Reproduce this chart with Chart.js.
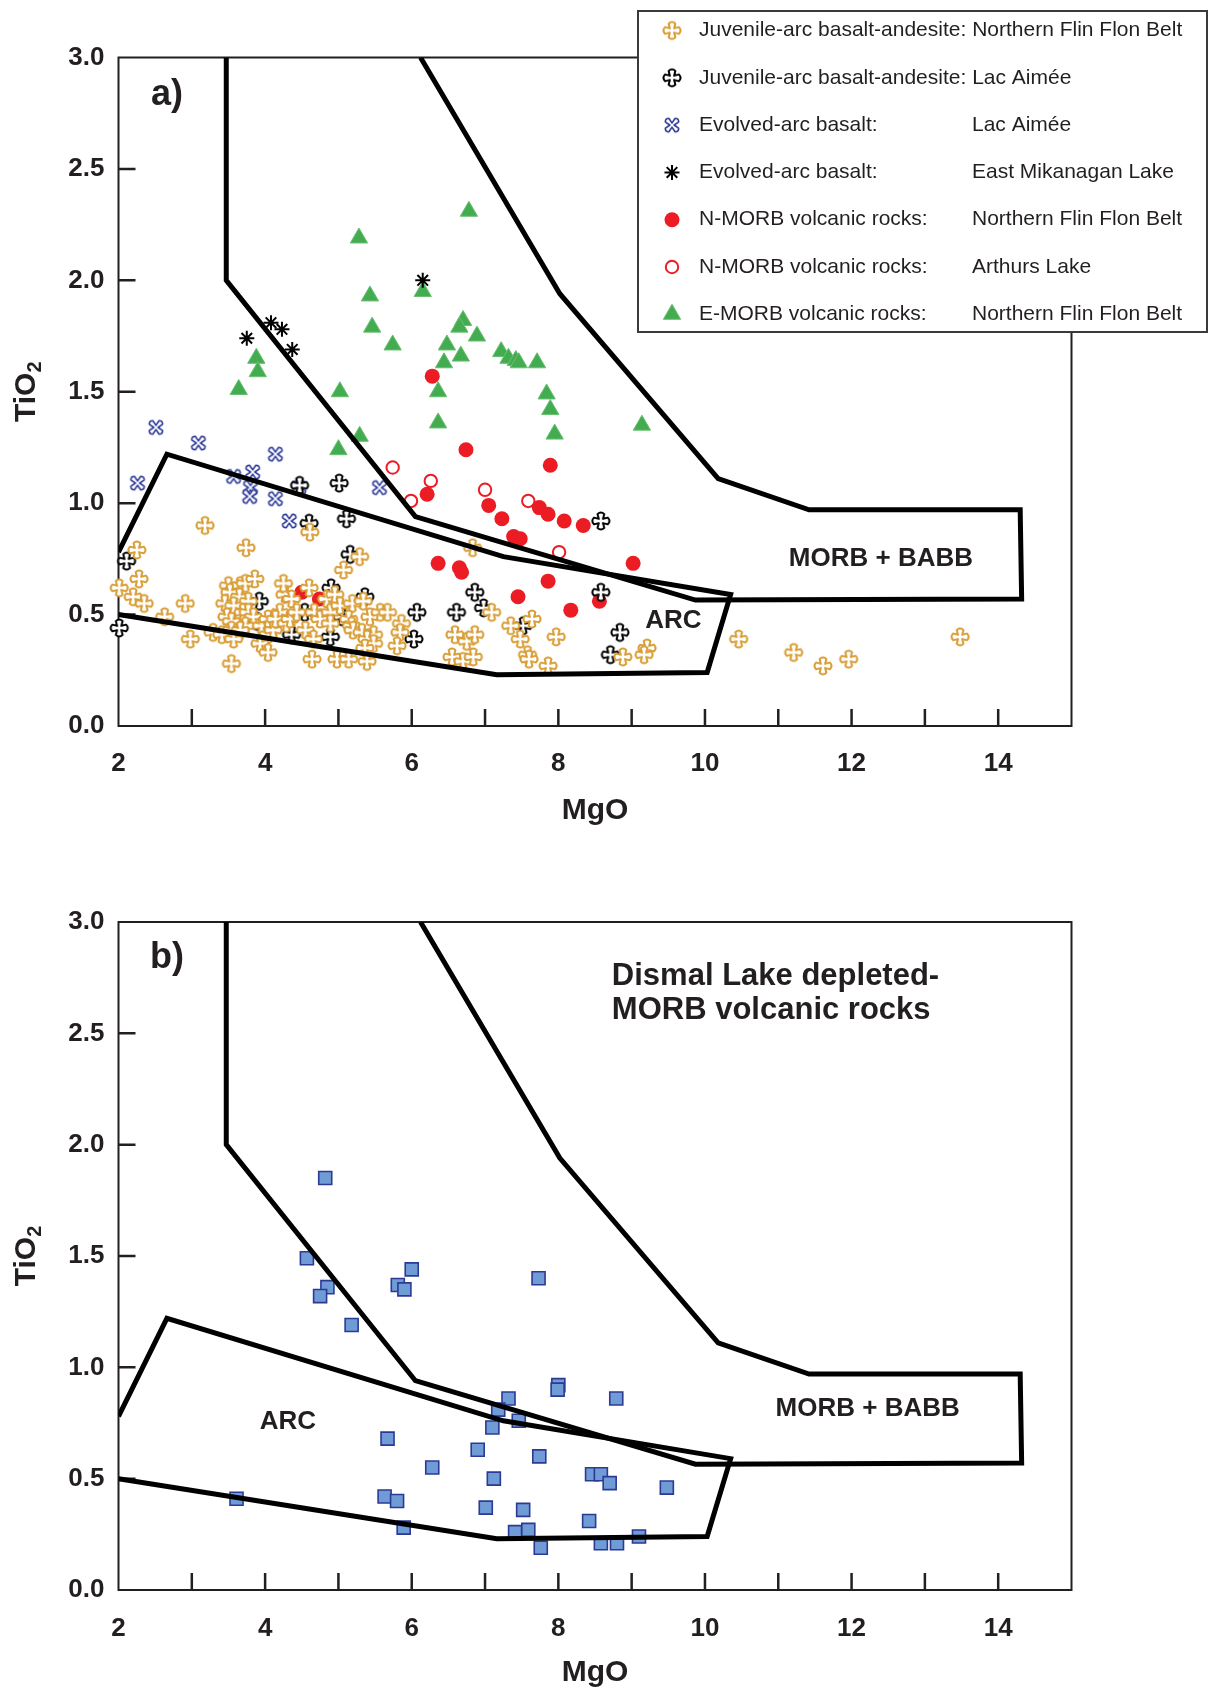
<!DOCTYPE html>
<html>
<head>
<meta charset="utf-8">
<title>TiO2 vs MgO</title>
<script src="https://cdn.jsdelivr.net/npm/chart.js@4.4.1/dist/chart.umd.min.js"></script>
<style>
  html, body { margin: 0; padding: 0; background: #fff; }
  #wrap { position: relative; width: 1209px; height: 1691px; }
  canvas { position: absolute; left: 0; }
  #chartA { top: 0; }
  #chartB { top: 845px; }
</style>
</head>
<body>
<div id="wrap">
  <canvas id="chartA" width="1209" height="845"></canvas>
  <canvas id="chartB" width="1209" height="846"></canvas>
</div>
<script>
// Field boundaries [MgO, TiO2], same in both panels
const morbBabbField = [[3.47, 3.0], [3.47, 2.0], [6.05, 0.94], [9.87, 0.565], [14.32, 0.57],
  [14.30, 0.97], [11.42, 0.97], [10.18, 1.11], [8.02, 1.94], [6.12, 3.0]];
const arcField = [[2.0, 0.5], [7.16, 0.23], [10.03, 0.24], [10.35, 0.59], [7.25, 0.76],
  [2.66, 1.22], [2.0, 0.78]];

// Panel a samples [MgO, TiO2]
const juvNffb = [
  [2.25,0.79],[2.28,0.66],[2.01,0.62],[2.20,0.58],[2.35,0.55],[2.63,0.49],[2.91,0.55],[2.98,0.39],
  [3.18,0.90],[3.74,0.80],[3.29,0.42],[3.41,0.41],[3.50,0.63],[3.66,0.63],[3.73,0.64],[3.86,0.66],
  [3.52,0.60],[3.65,0.58],[3.45,0.55],[3.77,0.56],[3.57,0.54],[3.70,0.51],[3.77,0.51],[3.84,0.49],
  [3.48,0.49],[3.54,0.47],[3.73,0.45],[3.54,0.43],[3.66,0.43],[3.95,0.45],[4.04,0.41],[3.57,0.39],
  [3.93,0.37],[4.04,0.33],[3.54,0.28],[4.04,0.48],[4.11,0.43],[4.27,0.59],[4.36,0.57],[4.20,0.51],
  [4.14,0.48],[4.29,0.46],[4.34,0.48],[4.43,0.51],[4.55,0.43],[4.25,0.64],[4.60,0.62],[4.61,0.87],
  [4.67,0.51],[4.75,0.48],[4.66,0.39],[4.64,0.30],[4.84,0.57],[4.95,0.59],[4.89,0.51],[5.02,0.54],
  [5.19,0.55],[5.34,0.56],[5.14,0.48],[5.18,0.45],[4.89,0.46],[5.20,0.43],[5.32,0.42],[5.48,0.41],
  [5.43,0.49],[5.57,0.51],[5.67,0.51],[5.86,0.46],[5.84,0.42],[5.39,0.39],[5.48,0.37],[5.80,0.36],
  [5.36,0.35],[4.98,0.30],[5.14,0.30],[5.39,0.29],[5.07,0.70],[5.29,0.76],[6.83,0.80],[6.59,0.41],
  [6.75,0.38],[6.86,0.41],[6.55,0.31],[6.70,0.29],[6.84,0.31],[7.09,0.51],[7.35,0.45],[7.64,0.48],
  [7.48,0.39],[7.58,0.32],[7.60,0.30],[7.97,0.40],[7.86,0.27],[8.88,0.31],[9.21,0.35],[9.17,0.32],
  [10.46,0.39],[11.21,0.33],[11.61,0.27],[11.96,0.30],[13.48,0.40]
];
const juvLacAimee = [
  [4.47,1.08],[5.01,1.09],[5.11,0.93],[4.60,0.91],[8.58,0.92],[2.11,0.74],[2.01,0.44],[5.16,0.77],
  [4.90,0.62],[5.36,0.58],[3.92,0.56],[4.54,0.51],[5.05,0.49],[4.89,0.40],[6.07,0.51],[6.61,0.51],
  [6.03,0.39],[6.86,0.60],[7.52,0.45],[6.98,0.53],[8.58,0.60],[8.84,0.42],[8.71,0.32],[3.89,0.47],
  [4.36,0.41]
];
const evoLacAimee = [
  [2.51,1.34],[3.09,1.27],[2.26,1.09],[4.14,1.22],[3.57,1.12],[3.83,1.14],[3.80,1.07],[3.79,1.03],
  [4.14,1.02],[4.46,1.07],[4.33,0.92],[5.56,1.07]
];
const evoMikanagan = [[3.75,1.74],[4.08,1.81],[4.23,1.78],[4.37,1.69],[6.15,2.00]];
const nmorbNffb = [
  [6.28,1.57],[6.74,1.24],[7.89,1.17],[6.21,1.04],[7.05,0.99],[7.23,0.93],[7.74,0.98],[7.86,0.95],
  [8.08,0.92],[8.34,0.90],[7.39,0.85],[7.48,0.84],[6.36,0.73],[6.65,0.71],[6.68,0.69],[9.02,0.73],
  [7.86,0.65],[7.45,0.58],[8.17,0.52],[8.56,0.56],[4.50,0.60],[4.74,0.57]
];
const nmorbArthurs = [[5.74,1.16],[6.26,1.10],[5.99,1.01],[7.00,1.06],[7.59,1.01],[8.01,0.78]];
const emorbNffb = [
  [6.78,2.31],[5.28,2.19],[5.43,1.93],[6.15,1.95],[5.46,1.79],[5.74,1.71],[3.88,1.65],[3.90,1.59],
  [3.64,1.51],[5.02,1.50],[6.70,1.82],[6.65,1.79],[6.89,1.75],[6.48,1.71],[6.67,1.66],[6.44,1.63],
  [6.36,1.50],[6.36,1.36],[7.22,1.68],[7.32,1.65],[7.42,1.64],[7.46,1.63],[7.71,1.63],[7.84,1.49],
  [7.89,1.42],[7.95,1.31],[9.14,1.35],[5.29,1.30],[5.00,1.24]
];

// Panel b samples [MgO, TiO2]
const dismalLake = [
  [4.82,1.85],[4.57,1.49],[6.00,1.44],[7.73,1.40],[4.85,1.36],[5.81,1.37],[5.90,1.35],[4.75,1.32],
  [5.18,1.19],[8.00,0.92],[7.99,0.90],[8.79,0.86],[7.32,0.86],[7.18,0.81],[7.46,0.76],[7.10,0.73],
  [5.67,0.68],[6.90,0.63],[7.74,0.60],[6.28,0.55],[7.12,0.50],[8.46,0.52],[8.58,0.52],[8.70,0.48],
  [9.48,0.46],[5.63,0.42],[5.80,0.40],[7.01,0.37],[7.52,0.36],[5.89,0.28],[8.42,0.31],[7.41,0.26],
  [7.59,0.27],[7.76,0.19],[8.58,0.21],[8.80,0.21],[9.10,0.24],[3.61,0.41]
];

// Axis ticks
const xLabelStep = 2;
const xMinorTicks = [3, 4, 5, 6, 7, 8, 9, 10, 11, 12, 13, 14];
const yTicks = [0.5, 1.0, 1.5, 2.0, 2.5];

const legendNames = [
  'Juvenile-arc basalt-andesite: Northern Flin Flon Belt',
  'Juvenile-arc basalt-andesite: Lac Aimée',
  'Evolved-arc basalt:',
  'Evolved-arc basalt:',
  'N-MORB volcanic rocks:',
  'N-MORB volcanic rocks:',
  'E-MORB volcanic rocks:'
];
const legendPlaces = ['', '', 'Lac Aimée', 'East Mikanagan Lake', 'Northern Flin Flon Belt',
  'Arthurs Lake', 'Northern Flin Flon Belt'];

const ink = '#231f20';
const fontFamily = "'Liberation Sans', Arial, Helvetica, sans-serif";
Chart.defaults.font.family = fontFamily;
Chart.defaults.color = ink;

const toXY = arr => arr.map(p => ({ x: p[0], y: p[1] }));

// Outlined four-armed plus marker, drawn on a small canvas and used as pointStyle
function plusMarker(color, lw, c, w, L, rot) {
  const size = 30;
  const cv = document.createElement('canvas');
  cv.width = size; cv.height = size;
  const g = cv.getContext('2d');
  g.translate(size / 2, size / 2);
  g.rotate(rot * Math.PI / 180);
  g.beginPath();
  for (let k = 0; k < 4; k++) {
    const r = k * Math.PI / 2, cs = Math.cos(r), sn = Math.sin(r);
    const p = (px, py) => [px * cs - py * sn, px * sn + py * cs];
    const a = p(-c, -c), b = p(-w, -L + w * 0.5), q = p(0, -L - w * 0.5), d = p(w, -L + w * 0.5);
    if (k === 0) g.moveTo(a[0], a[1]); else g.lineTo(a[0], a[1]);
    g.lineTo(b[0], b[1]);
    g.quadraticCurveTo(q[0], q[1], d[0], d[1]);
  }
  g.closePath();
  g.fillStyle = '#fff';
  g.fill();
  g.lineJoin = 'round';
  g.lineWidth = lw;
  g.strokeStyle = color;
  g.stroke();
  return cv;
}

const orangePlus = plusMarker('#d89c33', 2, 2.1, 3.4, 8.6, 0);
const blackPlus = plusMarker('#000000', 2, 2.1, 3.4, 8.6, 0);
const blueX = plusMarker('#2d3a97', 1.6, 1.5, 2.5, 8.2, 45);

function fieldLine(points) {
  return {
    data: toXY(points), showLine: true, pointRadius: 0, borderColor: '#000', borderWidth: 5,
    borderJoinStyle: 'miter', backgroundColor: 'transparent', fill: false, clip: 0
  };
}

const seriesA = [
  { data: toXY(juvNffb), pointStyle: orangePlus, pointRadius: 9, clip: false },
  { data: toXY(juvLacAimee), pointStyle: blackPlus, pointRadius: 9, clip: false },
  { data: toXY(evoLacAimee), pointStyle: blueX, pointRadius: 9, clip: false },
  { data: toXY(evoMikanagan), pointStyle: 'star', pointRadius: 7.5, borderColor: '#000', borderWidth: 2, backgroundColor: '#000', clip: false },
  { data: toXY(nmorbNffb), pointStyle: 'circle', pointRadius: 7.5, borderWidth: 0, backgroundColor: '#ec1c24', borderColor: '#ec1c24', clip: false },
  { data: toXY(nmorbArthurs), pointStyle: 'circle', pointRadius: 6.2, borderWidth: 2, backgroundColor: '#fff', borderColor: '#ec1c24', clip: false },
  { data: toXY(emorbNffb), pointStyle: 'triangle', pointRadius: 10, borderWidth: 1, backgroundColor: '#44ac50', borderColor: '#69bf72', clip: false }
];

const seriesB = [
  { data: toXY(dismalLake), pointStyle: 'rect', pointRadius: 9.2, borderWidth: 1.6, backgroundColor: '#6f9bd6', borderColor: '#2d3a94', clip: false }
];

// Frame and inward tick marks, drawn under the data
const framePlugin = {
  id: 'frame',
  beforeDatasetsDraw(chart) {
    const { ctx, chartArea: a, scales: { x, y } } = chart;
    ctx.save();
    ctx.strokeStyle = ink;
    ctx.lineWidth = 2;
    ctx.strokeRect(a.left, a.top, a.right - a.left, a.bottom - a.top);
    ctx.lineWidth = 2.5;
    ctx.beginPath();
    xMinorTicks.forEach(v => {
      const px = x.getPixelForValue(v);
      ctx.moveTo(px, a.bottom);
      ctx.lineTo(px, a.bottom - 17);
    });
    yTicks.forEach(v => {
      const py = y.getPixelForValue(v);
      ctx.moveTo(a.left, py);
      ctx.lineTo(a.left + 17, py);
    });
    ctx.stroke();
    ctx.restore();
  },
  // TiO2 axis title with a real subscript
  afterDraw(chart) {
    const { ctx, chartArea: a } = chart;
    ctx.save();
    ctx.translate(27, (a.top + a.bottom) / 2);
    ctx.rotate(-Math.PI / 2);
    ctx.fillStyle = ink;
    ctx.textBaseline = 'middle';
    ctx.textAlign = 'left';
    ctx.font = 'bold 30px ' + fontFamily;
    const w1 = ctx.measureText('TiO').width;
    ctx.font = 'bold 20px ' + fontFamily;
    const w2 = ctx.measureText('2').width;
    const start = -(w1 + w2) / 2;
    ctx.font = 'bold 30px ' + fontFamily;
    ctx.fillText('TiO', start, 0);
    ctx.font = 'bold 20px ' + fontFamily;
    ctx.fillText('2', start + w1, 8);
    ctx.restore();
  }
};

// Text notes placed in data coordinates
const notesPlugin = {
  id: 'notes',
  afterDatasetsDraw(chart, args, opts) {
    const { ctx, scales: { x, y } } = chart;
    ctx.save();
    ctx.fillStyle = ink;
    ctx.textBaseline = 'middle';
    (opts.items || []).forEach(n => {
      ctx.font = 'bold ' + n.size + 'px ' + fontFamily;
      ctx.textAlign = n.align || 'center';
      ctx.fillText(n.text, x.getPixelForValue(n.x), y.getPixelForValue(n.y));
    });
    ctx.restore();
  }
};

// Two-column legend box for panel a
const boxLegendPlugin = {
  id: 'boxLegend',
  afterDraw(chart, args, opts) {
    if (!opts.show) return;
    const ctx = chart.ctx;
    const left = 638, top = 11, right = 1207, bottom = 332;
    ctx.save();
    ctx.fillStyle = '#fff';
    ctx.fillRect(left, top, right - left, bottom - top);
    ctx.strokeStyle = '#3a3a3a';
    ctx.lineWidth = 2;
    ctx.strokeRect(left, top, right - left, bottom - top);
    ctx.font = '21px ' + fontFamily;
    ctx.textBaseline = 'middle';
    ctx.textAlign = 'left';
    seriesA.forEach((ds, i) => {
      const ry = 30.5 + i * 47.3;
      const mx = 672;
      const st = ds.pointStyle;
      if (typeof st === 'object') {
        ctx.drawImage(st, mx - st.width / 2, ry - st.height / 2);
      } else if (Chart.helpers && Chart.helpers.drawPoint) {
        ctx.fillStyle = ds.backgroundColor;
        ctx.strokeStyle = ds.borderColor;
        ctx.lineWidth = ds.borderWidth;
        Chart.helpers.drawPoint(ctx, { pointStyle: st, rotation: 0, radius: ds.pointRadius, borderWidth: ds.borderWidth }, mx, ry);
      }
      ctx.fillStyle = ink;
      ctx.fillText(legendNames[i], 699, ry);
      if (legendPlaces[i]) ctx.fillText(legendPlaces[i], 972, ry);
    });
    ctx.restore();
  }
};

function makeOptions(padTop, xAxisHeight, tickPad, titlePad, notes, showLegend) {
  return {
    responsive: false,
    animation: false,
    events: [],
    layout: { padding: { left: 0, top: padTop, right: 137.5, bottom: 0 } },
    plugins: {
      legend: { display: false },
      tooltip: { enabled: false },
      notes: { items: notes },
      boxLegend: { show: showLegend }
    },
    scales: {
      x: {
        type: 'linear', min: 2, max: 15,
        grid: { display: false, drawTicks: false },
        border: { display: false },
        ticks: { stepSize: xLabelStep, includeBounds: false, padding: tickPad, color: ink,
          font: { size: 26, weight: 'bold' } },
        title: { display: true, text: 'MgO', color: ink, font: { size: 30, weight: 'bold' },
          padding: { top: 0, bottom: titlePad } },
        afterFit: s => { s.height = xAxisHeight; }
      },
      y: {
        type: 'linear', min: 0, max: 3,
        grid: { display: false, drawTicks: false },
        border: { display: false },
        ticks: { stepSize: 0.5, padding: 14, color: ink, font: { size: 26, weight: 'bold' },
          callback: v => Number(v).toFixed(1) },
        title: { display: false },
        afterFit: s => { s.width = 118.5; }
      }
    }
  };
}

new Chart(document.getElementById('chartA'), {
  type: 'scatter',
  data: { datasets: [fieldLine(morbBabbField), fieldLine(arcField)].concat(seriesA) },
  options: makeOptions(57.5, 119, 22, 16, [
    { text: 'a)', x: 2.66, y: 2.83, size: 36 },
    { text: 'MORB + BABB', x: 12.40, y: 0.75, size: 26 },
    { text: 'ARC', x: 9.57, y: 0.47, size: 26 }
  ], true),
  plugins: [framePlugin, notesPlugin, boxLegendPlugin]
});

new Chart(document.getElementById('chartB'), {
  type: 'scatter',
  data: { datasets: [fieldLine(morbBabbField), fieldLine(arcField)].concat(seriesB) },
  options: makeOptions(77, 101, 23, 0, [
    { text: 'b)', x: 2.66, y: 2.84, size: 36 },
    { text: 'Dismal Lake depleted-', x: 8.73, y: 2.757, size: 31, align: 'left' },
    { text: 'MORB volcanic rocks', x: 8.73, y: 2.602, size: 31, align: 'left' },
    { text: 'MORB + BABB', x: 12.22, y: 0.815, size: 26 },
    { text: 'ARC', x: 4.31, y: 0.757, size: 26 }
  ], false),
  plugins: [framePlugin, notesPlugin, boxLegendPlugin]
});
</script>
</body>
</html>
